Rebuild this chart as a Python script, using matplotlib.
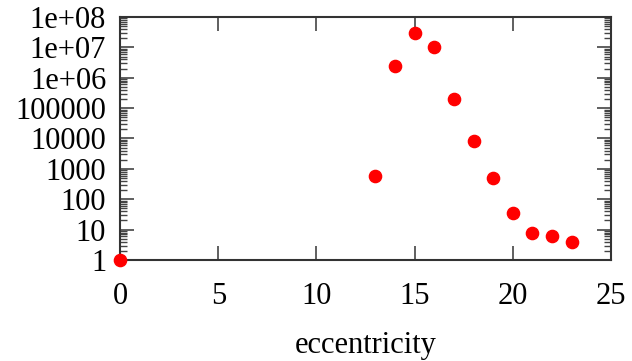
import matplotlib
matplotlib.use("Agg")
import matplotlib.pyplot as plt
from matplotlib.ticker import FixedLocator, LogLocator, FuncFormatter, NullFormatter

x_vals = [0, 13, 14, 15, 16, 17, 18, 19, 20, 21, 22, 23]
y_vals = [1, 575, 2.4e6, 2.9e7, 1.0e7, 2.0e5, 8200, 510, 34, 7.9, 6.2, 4.0]
x_ticks = [0, 5, 10, 15, 20, 25]
y_ticks = [1, 10, 100, 1000, 10000, 100000, 1e6, 1e7, 1e8]
y_labels = ["1", "10", "100", "1000", "10000", "100000", "1e+06", "1e+07", "1e+08"]

plt.rcParams['font.family'] = ['Liberation Serif', 'DejaVu Serif']
fig = plt.figure(figsize=(6.32, 3.61), dpi=100)
ax = fig.add_axes([0.190, 0.2798, 0.9668 - 0.190, 0.9529 - 0.2798])

ax.plot(x_vals, y_vals, 'o', color='#ff0000', markersize=8.8, clip_on=False, zorder=5)
ax.set_yscale('log')
ax.set_xlim(0, 25)
ax.set_ylim(1, 1e8)

ax.xaxis.set_major_locator(FixedLocator(x_ticks))
ax.yaxis.set_major_locator(FixedLocator(y_ticks))
ax.yaxis.set_major_formatter(FuncFormatter(lambda v, p: y_labels[y_ticks.index(v)] if v in y_ticks else ""))
ax.yaxis.set_minor_locator(LogLocator(base=10, subs=range(2, 10), numticks=20))
ax.yaxis.set_minor_formatter(NullFormatter())

for s in ax.spines.values():
    s.set_linewidth(1.5)
    s.set_color('#333333')

ax.tick_params(which='major', direction='in', length=10, width=1.2, color='#444444',
               top=True, right=True, labelsize=22)
ax.tick_params(which='minor', direction='in', length=5, width=1.0, color='#444444',
               top=False, right=True, left=True)
ax.tick_params(axis='x', which='major', pad=16)
ax.tick_params(axis='y', which='major', pad=10)

ax.set_xlabel('eccentricity', fontsize=22, labelpad=14.5)

fig.savefig('out.png', dpi=100)
